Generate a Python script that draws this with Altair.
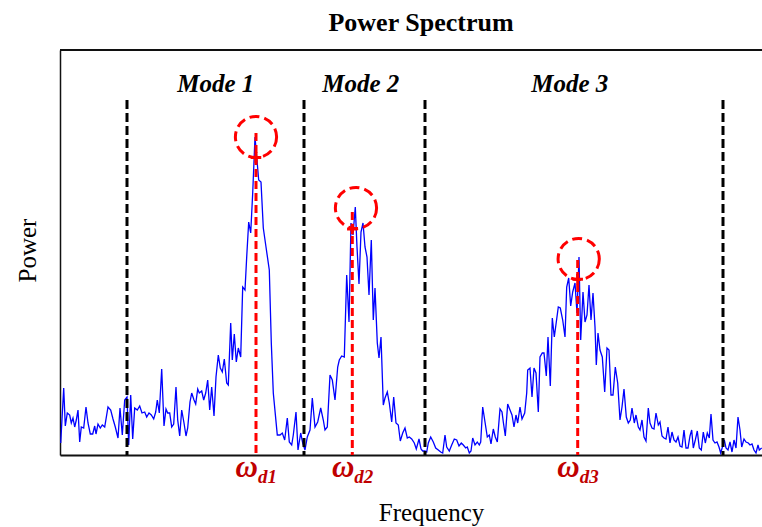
import altair as alt
import pandas as pd

# ---- spectrum (arbitrary units) ----
freq = [0.7, 3.7, 5.3, 7.3, 9.7, 11.3, 13, 14.7, 16.3, 18, 19.7, 21.3, 23.7, 26, 28, 30.3, 32.7, 34.7, 36, 38,
        40.3, 42.3, 44.7, 48, 50.7, 53, 55.3, 58, 60, 62.3, 64.7, 67, 68.7, 70.7, 72.7, 74.7, 77.3, 79.7, 82, 84.7,
        86.7, 89, 91.3, 93.7, 95.7, 97.3, 99.3, 101.7, 104, 106, 107.7, 109.7, 111.7, 113.7, 116, 117.7, 119.7, 121.7, 124, 126,
        127.7, 130, 131.7, 134, 135.7, 137.7, 139.3, 141.7, 143.7, 145.7, 147.7, 149.7, 151.7, 154, 156, 158.3, 160.3, 162.3, 164.3, 166.7,
        168.3, 170.7, 172.3, 174.3, 176.3, 178.3, 180.7, 182.7, 185, 186.7, 188.7, 190.7, 192.7, 195, 196.7, 198.7, 201, 203.3, 206, 209.3,
        211.3, 213.3, 217.3, 220, 222.3, 224.7, 227.3, 229.3, 231.7, 233.3, 236, 238, 240.7, 242.7, 245, 247.3, 250, 252.3, 255, 257.7,
        260.7, 263.3, 265, 267.3, 270, 272.3, 275, 277.7, 279.3, 281.7, 284.3, 286.7, 289, 291, 293, 295.3, 297, 299, 301, 303,
        305, 307, 309, 311.3, 313.3, 315, 317.3, 319, 321, 323.3, 325, 327.3, 329.3, 331.7, 333.7, 336, 338.3, 340.3, 342.7, 345,
        347.3, 349.3, 351.7, 354.3, 356.3, 359, 361, 362.7, 365, 366.7, 368.3, 370.7, 373.3, 375.7, 378.3, 380.7, 382.7, 385, 386.7, 389.3,
        391.7, 394.3, 396.7, 399, 401.3, 403.3, 405.7, 407.3, 409.3, 411, 412.7, 415, 417.3, 419.3, 420.7, 422.7, 425, 427.3, 429.3, 431,
        433.3, 435.3, 437.3, 440, 442, 443.3, 445.3, 447.7, 450, 452, 454, 456, 457.7, 460, 462, 464.7, 466.7, 467.7, 470, 472,
        474, 476, 478.3, 480, 482.3, 484, 486.3, 488, 490.3, 492.3, 494.3, 496.3, 498.3, 500.3, 502.7, 505, 506.7, 508.7, 510.7, 512.7,
        515, 517, 519, 520.7, 523, 525, 527, 529, 531, 533, 535, 536.3, 538, 540, 542.3, 544.7, 547, 549, 551, 553,
        555.3, 557.7, 560, 562, 564, 566.3, 568.3, 570.3, 572, 574.3, 576, 578.3, 580, 582, 584, 586, 588.3, 590, 592, 594,
        596, 598.3, 600, 602, 604, 606, 608, 610, 612, 614, 616, 618, 620, 622, 624, 626, 628, 630, 631.7, 633.3,
        635.3, 637.3, 639.3, 641.3, 643.3, 645.3, 647.3, 649.3, 651, 653, 655, 657, 659, 660.7, 662.7, 664.3, 666, 668, 670, 672,
        674, 676, 678, 680, 681.7, 684, 686, 688.3, 690, 692, 694, 696, 698, 699.3, 701.7]
power = [12, 67, 29, 42, 40, 32, 37, 28, 35, 45, 13, 28, 27, 48, 32, 21, 21, 29, 21, 31,
         27, 30, 28, 48, 45, 36, 28, 17, 47, 20, 55, 58, 10, 60, 16, 47, 45, 49, 42, 43,
         38, 42, 40, 36, 43, 55, 42, 86, 29, 46, 42, 42, 28, 31, 68, 35, 19, 45, 32, 19,
         27, 53, 62, 55, 51, 66, 62, 64, 55, 62, 75, 45, 68, 39, 78, 100, 87, 83, 96, 72,
         70, 132, 95, 121, 93, 107, 98, 168, 165, 198, 233, 222, 262, 318, 298, 275, 273, 227, 208, 185,
         112, 62, 20, 20, 22, 15, 37, 13, 10, 20, 43, 5, 22, 12, 5, 18, 25, 57, 28, 33,
         47, 35, 25, 28, 80, 75, 55, 88, 95, 99, 98, 180, 133, 232, 220, 248, 208, 171, 223, 232,
         208, 198, 160, 215, 135, 167, 112, 97, 118, 50, 57, 63, 52, 33, 58, 32, 30, 14, 22, 27,
         17, 18, 16, 12, 6, 16, 6, 4, 4, 3, 12, 18, 13, 7, 5, 3, 2, 20, 8, 4,
         10, 16, 15, 9, 12, 10, 7, 8, 2, 4, 17, 10, 13, 10, 13, 48, 33, 18, 20, 11,
         26, 18, 13, 46, 43, 33, 19, 51, 45, 40, 28, 40, 32, 48, 36, 42, 62, 85, 87, 58,
         87, 82, 43, 98, 102, 102, 79, 118, 69, 137, 118, 133, 148, 147, 135, 118, 168, 177, 149, 163,
         172, 142, 198, 115, 163, 133, 140, 170, 135, 162, 128, 90, 122, 105, 98, 63, 107, 105, 60, 60,
         88, 72, 35, 48, 66, 38, 32, 35, 47, 32, 40, 28, 25, 35, 18, 14, 47, 32, 27, 26,
         42, 30, 33, 19, 17, 16, 28, 12, 23, 15, 13, 18, 9, 8, 25, 7, 7, 19, 25, 7,
         15, 24, 7, 5, 23, 12, 22, 17, 41, 15, 12, 13, 8, 2, 9, 15, 7, 5, 13, 3,
         15, 7, 38, 25, 8, 16, 13, 12, 10, 11, 5, 2, 10, 5, 7]

# ---- annotations ----
chart_title = ["Power Spectrum"]
mode_bounds = [67, 244, 365, 663]
bound_top = [355, 355, 355, 355]
mode_names = ["Mode 1", "Mode 2", "Mode 3"]
mode_label_freq = [155.8, 300.8, 509.7]
mode_label_power = [363, 363, 363]
peak_freq = [196, 292.3, 517.7]
peak_top = [322, 243, 195]
marker_power = [297.5, 226, 175.7]
circle_freq = [196, 296, 518.7]
circle_power = [318, 247, 196]
omega_sub = ["d1", "d2", "d3"]

spec = pd.DataFrame({"f": freq, "p": power})
bounds = pd.DataFrame({"f": mode_bounds, "p": bound_top, "p2": [0] * 4})
peaks = pd.DataFrame({"f": peak_freq, "p": peak_top, "p2": [0] * 3,
                      "m": marker_power, "sub": omega_sub, "w": ["ω"] * 3})
circles = pd.DataFrame({"f": circle_freq, "p": circle_power})
modes = pd.DataFrame({"f": mode_label_freq, "p": mode_label_power, "name": mode_names})
titles = pd.DataFrame({"t": chart_title})

W, H = 702, 405
xs = alt.Scale(domain=[0, 702], nice=False, zero=False)
ys = alt.Scale(domain=[0, 405], nice=False, zero=False)
x_axis = alt.Axis(title="Frequency", labels=False, ticks=False, grid=False,
                  domainColor="#111111", domainWidth=2,
                  titleFont="Liberation Serif", titleFontSize=25, titleFontWeight="normal",
                  titleColor="black", titleX=371, titleY=65, titleBaseline="alphabetic",
                  titleAlign="center")
y_axis = alt.Axis(title="Power", labels=False, ticks=False, grid=False,
                  domainColor="#111111", domainWidth=1.5,
                  titleFont="Liberation Serif", titleFontSize=25, titleFontWeight="normal",
                  titleColor="black", titleX=-25, titleY=200, titleBaseline="alphabetic",
                  titleAlign="center", titleAngle=270)

X = alt.X("f:Q", scale=xs, axis=x_axis)
Y = alt.Y("p:Q", scale=ys, axis=y_axis)

line = alt.Chart(spec).mark_line(color="#0000ff", strokeWidth=1.3).encode(x=X, y=Y)

black = alt.Chart(bounds).mark_rule(color="black", strokeWidth=3, strokeDash=[9, 4]).encode(
    x=X, y=Y, y2="p2:Q")

red = alt.Chart(peaks).mark_rule(color="#ff0000", strokeWidth=3, strokeDash=[8, 4]).encode(
    x=X, y=Y, y2="p2:Q")

plus = alt.Chart(peaks).mark_point(shape="M-1,0H1M0,-1V1", size=110, color="#ff0000",
                                   strokeWidth=3, filled=False, opacity=1).encode(
    x=X, y=alt.Y("m:Q", scale=ys, axis=y_axis))

circ = alt.Chart(circles).mark_point(shape="circle", size=1700, color="#ff0000", filled=False,
                                     strokeWidth=3, strokeDash=[10, 5], opacity=1).encode(x=X, y=Y)

mode_text = alt.Chart(modes).mark_text(font="Liberation Serif", fontSize=25, fontWeight="bold",
                                       fontStyle="italic", color="black", baseline="alphabetic",
                                       align="center").encode(x=X, y=Y, text="name:N")

omega = alt.Chart(peaks).mark_text(font="Liberation Serif", fontSize=31, fontWeight="bold",
                                   fontStyle="italic", color="#c00000", baseline="alphabetic",
                                   align="right", dx=2).encode(x=X, y=alt.value(H + 22), text="w:N")
sub = alt.Chart(peaks).mark_text(font="Liberation Serif", fontSize=19, fontWeight="bold",
                                 fontStyle="italic", color="#c00000", baseline="alphabetic",
                                 align="left", dx=2).encode(x=X, y=alt.value(H + 28), text="sub:N")

title_text = alt.Chart(titles).mark_text(font="Liberation Serif", fontSize=26, fontWeight="bold",
                                         color="black", baseline="alphabetic", align="center").encode(
    x=alt.value(361), y=alt.value(-19), text="t:N")

top_border = alt.Chart(spec).mark_rule(color="#111111", strokeWidth=1.5).encode(
    x=alt.value(0), x2=alt.value(W), y=alt.value(0))

chart = alt.layer(line, black, red, circ, plus, mode_text, omega, sub, title_text, top_border).properties(
    width=W, height=H,
    autosize=alt.AutoSizeParams(type="none"),
    padding={"left": 60, "top": 50, "right": 0, "bottom": 72},
).configure_view(stroke=None).configure(background="white")

chart.save("out.html", embed_options={"renderer": "svg", "actions": False})
